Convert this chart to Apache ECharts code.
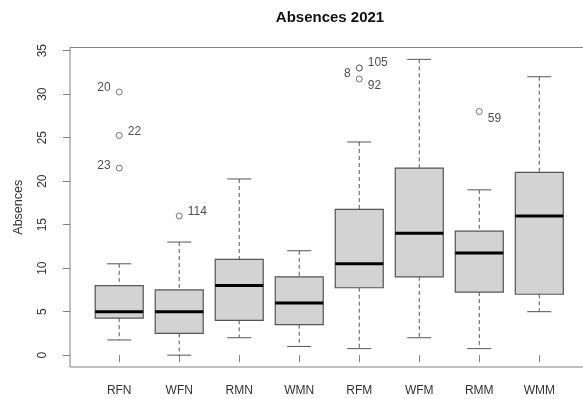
<!DOCTYPE html>
<html>
<head>
<meta charset="utf-8">
<script src="https://cdn.jsdelivr.net/npm/echarts@6/dist/echarts.min.js"></script>
<style>
html,body{margin:0;padding:0;background:#fff;}
#chart{width:583px;height:399px;}
</style>
</head>
<body>
<div id="chart"></div>
<script>
const categories = ['RFN','WFN','RMN','WMN','RFM','WFM','RMM','WMM'];
const lowerWhisker = [1.75, 0, 2, 1, 0.75, 2, 0.75, 5];
const q1 = [4.25, 2.5, 4, 3.5, 7.75, 9, 7.25, 7];
const median = [5, 5, 8, 6, 10.5, 14, 11.75, 16];
const q3 = [8, 7.5, 11, 9, 16.75, 21.5, 14.25, 21];
const upperWhisker = [10.5, 13, 20.25, 12, 24.5, 34, 19, 32];
const outlierGroup = ['RFN','RFN','RFN','WFN','RFM','RFM','RFM','RMM'];
const outlierValue = [30.25, 25.25, 21.5, 16, 33, 33, 31.75, 28];
const outlierLabel = ['20','22','23','114','105','8','92','59'];
const yTicks = [0, 5, 10, 15, 20, 25, 30, 35];

const xTicks = categories.map((c, i) => i + 1);
const FONT = '"Liberation Sans", Arial, Helvetica, sans-serif';

// label placement style (not data)
const labelStyle = {
  '20': {position: 'left', offset: [-1, -4]},
  '22': {position: 'right', offset: [1, -4]},
  '23': {position: 'left', offset: [-1, -2]},
  '114': {position: 'right', offset: [1, -4]},
  '105': {position: 'right', offset: [1, -5]},
  '8': {position: 'left', offset: [-1, 6]},
  '92': {position: 'right', offset: [1, 7]},
  '59': {position: 'right', offset: [1, 7]}
};

const boxData = categories.map((c, i) => [i + 1, lowerWhisker[i], q1[i], median[i], q3[i], upperWhisker[i]]);
const outlierData = outlierValue.map((v, i) => ({
  value: [categories.indexOf(outlierGroup[i]) + 1, v],
  name: outlierLabel[i],
  label: Object.assign({show: true, formatter: '{b}', color: '#222', fontSize: 12, fontFamily: FONT, distance: 4}, labelStyle[outlierLabel[i]])
}));

const chart = echarts.init(document.getElementById('chart'), null, {renderer: 'canvas'});
const option = {
  animation: false,
  backgroundColor: '#ffffff',
  title: {
    text: 'Absences 2021',
    left: 325, top: 5, textAlign: 'center',
    textStyle: {fontFamily: FONT, fontSize: 15, fontWeight: 'bold', color: '#111'}
  },
  grid: {left: 70, top: 47.5, width: 518.5, height: 319.5, show: true, borderColor: '#808080', borderWidth: 1, backgroundColor: 'transparent', containLabel: false, outerBoundsMode: 'none'},
  xAxis: {
    type: 'value', min: 0.18, max: 8.82,
    axisLine: {show: false},
    splitLine: {show: false},
    axisTick: {show: true, customValues: xTicks, length: 7, lineStyle: {color: '#808080'}},
    axisLabel: {customValues: xTicks, formatter: v => categories[Math.round(v) - 1] || '', margin: 18, fontSize: 12, fontFamily: FONT, color: '#333'}
  },
  yAxis: {
    type: 'value', min: -1.36, max: 35.36,
    name: 'Absences', nameLocation: 'middle', nameGap: 45,
    nameTextStyle: {fontFamily: FONT, fontSize: 12.5, color: '#333'},
    axisLine: {show: false},
    splitLine: {show: false},
    axisTick: {show: true, customValues: yTicks, length: 7, lineStyle: {color: '#808080'}},
    axisLabel: {customValues: yTicks, rotate: 90, margin: 21, fontSize: 12, fontFamily: FONT, color: '#333'}
  },
  series: [
    {
      type: 'custom',
      data: boxData,
      clip: false,
      renderItem: function (params, api) {
        const x = api.value(0);
        const lw = api.value(1), lq = api.value(2), md = api.value(3), uq = api.value(4), uw = api.value(5);
        const pL = (v, dx) => api.coord([x + dx, v]);
        const boxTL = pL(uq, -0.4), boxBR = pL(lq, 0.4);
        const c = pL(uq, 0)[0];
        const children = [];
        const dash = {stroke: '#555', lineWidth: 1, lineDash: [4, 3]};
        const solid = {stroke: '#555', lineWidth: 1};
        children.push({type: 'line', shape: {x1: c, y1: pL(uw, 0)[1], x2: c, y2: pL(uq, 0)[1]}, style: dash});
        children.push({type: 'line', shape: {x1: c, y1: pL(lq, 0)[1], x2: c, y2: pL(lw, 0)[1]}, style: dash});
        children.push({type: 'line', shape: {x1: pL(uw, -0.2)[0], y1: pL(uw, 0)[1], x2: pL(uw, 0.2)[0], y2: pL(uw, 0)[1]}, style: solid});
        children.push({type: 'line', shape: {x1: pL(lw, -0.2)[0], y1: pL(lw, 0)[1], x2: pL(lw, 0.2)[0], y2: pL(lw, 0)[1]}, style: solid});
        children.push({type: 'rect', shape: {x: boxTL[0], y: boxTL[1], width: boxBR[0] - boxTL[0], height: boxBR[1] - boxTL[1]}, style: {fill: '#d3d3d3', stroke: '#555', lineWidth: 1.2}});
        children.push({type: 'line', shape: {x1: boxTL[0], y1: pL(md, 0)[1], x2: boxBR[0], y2: pL(md, 0)[1]}, style: {stroke: '#000', lineWidth: 3}});
        return {type: 'group', children: children};
      }
    },
    {
      type: 'scatter',
      data: outlierData,
      symbol: 'circle',
      symbolSize: 6,
      itemStyle: {color: '#fff', borderColor: '#555', borderWidth: 1},
      z: 3
    }
  ]
};
chart.setOption(option);
</script>
</body>
</html>
